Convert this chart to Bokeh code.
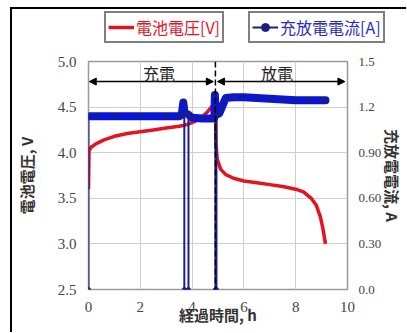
from bokeh.plotting import figure
from bokeh.layouts import column
from bokeh.models import (Range1d, LinearAxis, FixedTicker, Legend, LegendItem,
                          Span, Arrow, NormalHead, Label)
from bokeh.embed import file_html
from bokeh.resources import INLINE

# ---- data ----
t_v = [0, 0.02, 0.1, 0.3, 0.6, 1.0, 1.5, 2.0, 2.5, 3.0, 3.5, 3.7, 4.0, 4.3, 4.6, 4.8,
       4.9, 4.92, 4.97, 5.1, 5.3, 5.6, 6.0, 6.5, 7.0, 7.5, 8.0, 8.3, 8.6, 8.8, 8.95, 9.05, 9.15]
volt = [3.6, 4.02, 4.06, 4.1, 4.14, 4.18, 4.21, 4.23, 4.25, 4.27, 4.29, 4.30, 4.33, 4.37, 4.45, 4.52,
        4.58, 4.1, 3.93, 3.82, 3.76, 3.72, 3.69, 3.67, 3.65, 3.63, 3.60, 3.57, 3.50, 3.42, 3.30, 3.17, 3.0]

t_i = [0, 0, 0.3, 1.0, 2.0, 3.0, 3.5, 3.6, 3.66, 3.70, 3.70, 3.86, 3.86, 4.0, 4.4, 4.8,
       4.86, 4.88, 4.90, 4.90, 4.94, 4.94, 5.05, 5.15, 5.3, 5.6, 6.0, 6.5, 7.0, 7.5, 8.0, 8.5, 9.0, 9.15]
curr = [0, 1.14, 1.14, 1.14, 1.14, 1.14, 1.14, 1.15, 1.23, 1.17, 0, 0, 1.15, 1.13, 1.125, 1.125,
        1.13, 1.28, 1.2, 0, 0, 1.15, 1.16, 1.2, 1.26, 1.265, 1.265, 1.26, 1.255, 1.25, 1.245, 1.245, 1.245, 1.245]

x_ticks = [0, 2, 4, 6, 8, 10]
v_ticks = [2.5, 3.0, 3.5, 4.0, 4.5, 5.0]
v_labels = ["2.5", "3.0", "3.5", "4.0", "4.5", "5.0"]
i_ticks = [0.0, 0.3, 0.6, 0.9, 1.2, 1.5]
i_labels = ["0.0", "0.30", "0.60", "0.90", "1.2", "1.5"]

switch_t = 4.9
arrow_y = 4.78
phase_labels = ["充電", "放電"]
phase_x = [2.72, 7.28]
phase_y = 4.87

series_names = ["電池電圧[V]", "充放電電流[A]"]

RED = "#e3141f"
BLUE = "#0a16d6"
NAVY = "#1d1d86"
TICK_FONT = "Liberation Serif"
CJK = "Noto Sans CJK JP"
W = 394

# ---- legend strip (top); series drawn off-range so only the legend shows ----
top = figure(width=W, height=40, output_backend="svg", toolbar_location=None,
             x_axis_type=None, y_axis_type=None, min_border=0,
             x_range=Range1d(100, 101), y_range=Range1d(100, 101))
top.frame_align = False
top.outline_line_color = None
top.grid.visible = False
d_v = top.line(t_v, volt, line_color=RED, line_width=3.5)
d_i = top.line(t_i, curr, line_color=NAVY, line_width=2)
d_im = top.scatter(t_i, curr, size=3, color=NAVY)
leg_pos = [(92, 6), (236, 6)]
leg_colors = [RED, "#2a2ac0"]
for name, rends, pos, col in zip(series_names, [[d_v], [d_i, d_im]], leg_pos, leg_colors):
    lg = Legend(items=[LegendItem(label=name, renderers=rends)], location=pos,
                label_text_color=col)
    lg.label_text_font = CJK
    lg.label_text_font_size = "16px"
    lg.border_line_color = "black"
    lg.border_line_width = 2
    lg.padding = 2
    lg.spacing = 0
    lg.margin = 0
    lg.glyph_width = 26
    lg.glyph_height = 20
    lg.label_height = 20
    lg.label_standoff = 2
    top.add_layout(lg)

# ---- main chart ----
p = figure(width=W, height=283, output_backend="svg", toolbar_location=None,
           x_range=Range1d(0, 10), y_range=Range1d(2.5, 5.0),
           min_border_left=74, min_border_right=58, min_border_top=12, min_border_bottom=43)
p.frame_align = False
p.extra_y_ranges = {"cur": Range1d(0, 1.5)}
p.outline_line_color = "#9a9a9a"
p.outline_line_width = 1.5

p.xgrid.ticker = FixedTicker(ticks=x_ticks)
p.ygrid.ticker = FixedTicker(ticks=v_ticks)
for g in (p.xgrid, p.ygrid):
    g.grid_line_color = "#cfcfcf"
    g.grid_line_width = 1


def style_axis(ax):
    ax.axis_line_color = None
    ax.major_tick_line_color = None
    ax.minor_tick_line_color = None
    ax.major_label_text_font = TICK_FONT
    ax.major_label_text_font_size = "15px"
    ax.major_label_text_color = "#444444"
    ax.axis_label_text_font = CJK
    ax.axis_label_text_font_size = "15px"
    ax.axis_label_text_font_style = "bold"
    ax.axis_label_text_color = "#333333"


p.xaxis.ticker = FixedTicker(ticks=x_ticks)
p.xaxis.axis_label = "経過時間, h"
p.xaxis.major_label_standoff = 6
p.xaxis.axis_label_standoff = -11
style_axis(p.xaxis[0])

p.yaxis.ticker = FixedTicker(ticks=v_ticks)
p.yaxis.major_label_overrides = {v: s for v, s in zip(v_ticks, v_labels)}
p.yaxis.axis_label = "電池電圧, V"
p.yaxis.major_label_standoff = 6
p.yaxis.axis_label_standoff = 18
style_axis(p.yaxis[0])

rax = LinearAxis(y_range_name="cur", ticker=FixedTicker(ticks=i_ticks),
                 axis_label="充放電電流, A")
rax.major_label_overrides = {v: s for v, s in zip(i_ticks, i_labels)}
rax.major_label_standoff = 5
rax.axis_label_standoff = -2
style_axis(rax)
rax.major_label_text_font_size = "13px"
p.add_layout(rax, "right")

p.line(t_v, volt, line_color=RED, line_width=3.5)
p.line(t_i, curr, line_color=NAVY, line_width=2, y_range_name="cur")
thick = [c if c > 0.5 else float("nan") for c in curr]
p.line(t_i, thick, line_color=BLUE, line_width=8, line_cap="round", line_join="round",
       y_range_name="cur")
p.scatter(t_i, curr, size=4, color=NAVY, y_range_name="cur")

p.add_layout(Span(location=switch_t, dimension="height", line_color="black",
                  line_width=1.5, line_dash="6 3"))
for xs, xe in [(0.03, switch_t - 0.08), (switch_t + 0.08, 9.9)]:
    p.add_layout(Arrow(x_start=xs, y_start=arrow_y, x_end=xe, y_end=arrow_y,
                       start=NormalHead(size=7, fill_color="black", line_color="black"),
                       end=NormalHead(size=7, fill_color="black", line_color="black"),
                       line_width=1.5))
for lab, xx in zip(phase_labels, phase_x):
    p.add_layout(Label(x=xx, y=phase_y, text=lab, text_align="center", text_baseline="middle",
                       text_font=CJK, text_font_size="16px", text_color="#222222"))

layout = column(top, p, spacing=0,
                styles={"margin-left": "10px", "margin-top": "7px",
                        "border-left": "2.5px solid black", "border-top": "2.5px solid black"})

open("out.html", "w").write(file_html(layout, INLINE))
